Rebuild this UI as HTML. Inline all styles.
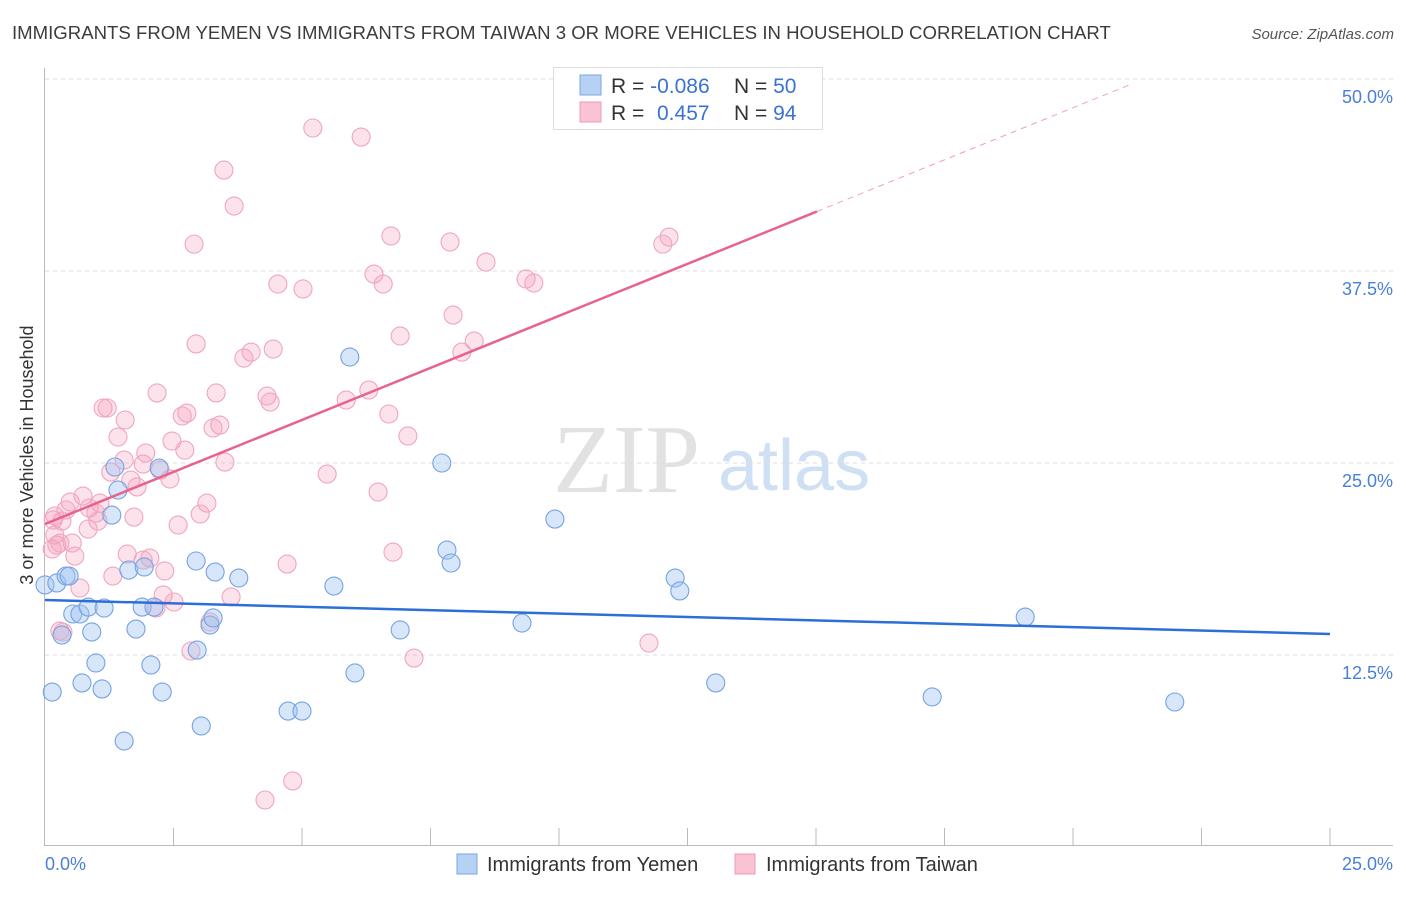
<!DOCTYPE html>
<html><head><meta charset="utf-8"><style>
body{margin:0;background:#fff;font-family:"Liberation Sans",sans-serif}
svg text{font-family:"Liberation Sans",sans-serif}
</style></head><body>
<svg width="1406" height="892">
<text x="12" y="39" font-size="18.6" fill="#3c3c3c">IMMIGRANTS FROM YEMEN VS IMMIGRANTS FROM TAIWAN 3 OR MORE VEHICLES IN HOUSEHOLD CORRELATION CHART</text>
<text x="1394" y="39" font-size="15" fill="#555" text-anchor="end" font-style="italic">Source: ZipAtlas.com</text>
<text transform="translate(33,455) rotate(-90)" font-size="18" fill="#333" text-anchor="middle">3 or more Vehicles in Household</text>
<g>
<text x="553" y="492" font-size="98" fill="#e2e2e2" font-family="Liberation Serif,serif" style="font-family:'Liberation Serif',serif">ZIP</text>
<text x="718" y="490" font-size="72" fill="#cfe0f5">atlas</text>
</g>
<g id="grid"></g>
<g id="axes"></g>
<g id="marks"></g>
<g>
<rect x="553.5" y="67.5" width="269" height="62" fill="#fff" stroke="#ddd"/>
<rect x="580" y="75" width="21" height="20" fill="#b7d1f4" stroke="#7aa6e6"/>
<rect x="580" y="102" width="21" height="20" fill="#f9c3d3" stroke="#f09ab6"/>
<text x="611" y="93" font-size="21" fill="#333">R = <tspan fill="#3a72d4">-0.086</tspan></text>
<text x="734" y="93" font-size="21" fill="#333">N = <tspan fill="#3a72d4">50</tspan></text>
<text x="611" y="120" font-size="21" fill="#333">R = </text>
<text x="657" y="120" font-size="21" fill="#3a72d4">0.457</text>
<text x="734" y="120" font-size="21" fill="#333">N = <tspan fill="#3a72d4">94</tspan></text>
</g>
<g>
<rect x="457" y="854" width="20" height="20" fill="#b7d1f4" stroke="#7aa6e6"/>
<text x="487" y="871" font-size="20" fill="#333">Immigrants from Yemen</text>
<rect x="735" y="854" width="20" height="20" fill="#f9c3d3" stroke="#f09ab6"/>
<text x="766" y="871" font-size="20" fill="#333">Immigrants from Taiwan</text>
</g>
</svg>
<script>
const yTicks=[12.5,25,37.5,50];
const yTickLabels=["12.5%","25.0%","37.5%","50.0%"];
const xTickLabels=["0.0%","25.0%"];
const yemenX=[0,0.14,0.23,0.33,0.41,0.47,0.54,0.68,0.72,0.84,0.91,0.99,1.11,1.15,1.30,1.36,1.42,1.54,1.63,1.77,1.89,1.93,2.06,2.12,2.22,2.28,2.94,2.96,3.04,3.21,3.27,3.31,3.77,4.73,5.00,5.62,5.93,6.03,6.91,7.72,7.82,7.90,9.28,9.92,12.26,12.35,13.05,17.26,19.07,21.98];
const yemenY=[17.06,10.09,17.19,13.80,17.64,17.64,15.17,15.17,10.68,15.62,14.00,11.98,10.29,15.56,21.61,24.74,23.24,6.90,18.03,14.19,15.62,18.23,11.85,15.62,24.67,10.09,18.62,12.82,7.88,14.45,14.91,17.90,17.51,8.85,8.85,16.99,31.90,11.33,14.13,25.00,19.33,18.49,14.58,21.35,17.51,16.67,10.68,9.77,14.97,9.44];
const taiwanX=[5.21,6.15,3.48,3.68,2.90,6.73,7.88,12.14,12.02,8.58,6.40,6.58,4.53,5.02,9.36,9.51,7.94,6.91,2.94,8.35,8.11,4.01,3.87,4.44,2.18,3.33,6.30,4.32,4.38,5.86,1.13,1.21,2.76,2.67,6.69,1.56,3.40,3.27,1.42,2.47,7.06,2.72,1.96,1.54,3.50,1.91,1.28,2.24,5.49,2.43,1.67,1.79,6.48,0.49,0.74,1.07,3.15,0.86,0.99,0.41,0.19,0.33,3.02,1.73,1.03,2.59,0.84,0.16,0.19,0.53,0.23,0.14,0.29,0.58,1.60,6.77,2.04,1.91,4.71,2.33,1.32,0.68,2.30,3.62,2.51,2.16,0.29,3.21,2.84,7.18,11.75,4.82,4.28,0.35];
const taiwanY=[46.81,46.22,44.07,41.73,39.25,39.78,39.39,39.71,39.25,38.08,37.30,36.65,36.65,36.33,36.98,36.72,34.63,33.27,32.75,32.94,32.22,32.22,31.83,32.42,29.56,29.56,29.75,29.36,28.97,29.10,28.58,28.58,28.25,28.06,28.19,27.80,27.47,27.28,26.69,26.43,26.76,25.84,25.65,25.19,25.06,24.93,24.41,24.54,24.28,23.96,23.89,23.44,23.11,22.46,22.85,22.39,22.39,22.07,21.74,21.94,21.55,21.22,21.68,21.48,21.22,20.96,20.70,21.29,20.31,19.79,19.66,19.40,19.79,18.94,19.07,19.20,18.81,18.68,18.42,17.97,17.64,16.86,16.41,16.28,15.95,15.56,14.06,14.65,12.76,12.30,13.28,4.30,3.06,13.99];
const yemenTrend=[16.08,13.87];
const taiwanTrend=[21.03,54.9];
const taiwanSolidEnd=15.02, taiwanDashEnd=21.1;

const NS="http://www.w3.org/2000/svg";
const X=v=>45+v/25*1285;
const Y=v=>847-v/50*768;
function mk(tag,attrs,parent){const e=document.createElementNS(NS,tag);for(const k in attrs)e.setAttribute(k,attrs[k]);document.getElementById(parent).appendChild(e);return e;}

yTicks.forEach((t,i)=>{
  const g=mk('line',{x1:45,x2:1393,y1:Y(t),y2:Y(t),stroke:'#ddd','stroke-dasharray':'4,4'},'grid');
  
  
  const l=mk('text',{x:1393,y:Y(t)+24,'font-size':18,fill:'#4a7fd6','text-anchor':'end'},'axes');
  l.textContent=yTickLabels[i];
  
  
});
const ax=mk('line',{x1:44.5,x2:44.5,y1:68,y2:846,stroke:'#bbb'},'axes');


const bx=mk('line',{x1:45,x2:1393,y1:845.5,y2:845.5,stroke:'#bbb'},'axes');


for(let i=1;i<=10;i++){
  const t=mk('line',{x1:X(i*2.5),x2:X(i*2.5),y1:828,y2:845,stroke:'#bbb'},'axes');
  
  
}
const xl0=mk('text',{x:45,y:870,'font-size':18,fill:'#4a7fd6'},'axes');
xl0.textContent=xTickLabels[0];


const xl1=mk('text',{x:1393,y:870,'font-size':18,fill:'#4a7fd6','text-anchor':'end'},'axes');
xl1.textContent=xTickLabels[1];



taiwanX.forEach((x,i)=>{
  const c=mk('circle',{cx:X(x),cy:Y(taiwanY[i]),r:9,fill:'rgba(244,160,188,0.3)',stroke:'#f0a6be','stroke-width':1.1},'marks');
  
  
});
yemenX.forEach((x,i)=>{
  const c=mk('circle',{cx:X(x),cy:Y(yemenY[i]),r:9,fill:'rgba(160,195,240,0.42)',stroke:'#76a3e2','stroke-width':1.1},'marks');
  
  
});
const ty=x=>taiwanTrend[0]+(taiwanTrend[1]-taiwanTrend[0])*x/25;
const yl=mk('line',{x1:X(0),y1:Y(yemenTrend[0]),x2:X(25),y2:Y(yemenTrend[1]),stroke:'#2c6fd6','stroke-width':2.5},'marks');


const tl=mk('line',{x1:X(0),y1:Y(ty(0)),x2:X(taiwanSolidEnd),y2:Y(ty(taiwanSolidEnd)),stroke:'#e8628e','stroke-width':2.5},'marks');


const td=mk('line',{x1:X(taiwanSolidEnd),y1:Y(ty(taiwanSolidEnd)),x2:X(taiwanDashEnd),y2:Y(ty(taiwanDashEnd)),stroke:'#f0a0ba','stroke-width':1,'stroke-dasharray':'6,5'},'marks');


</script>
</body></html>
